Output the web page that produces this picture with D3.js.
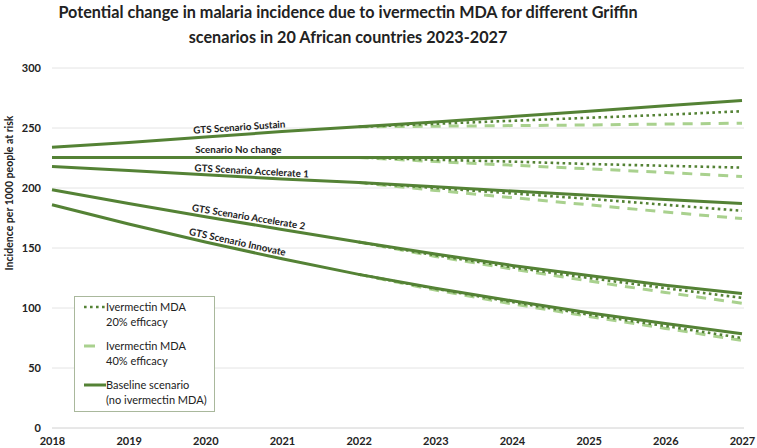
<!DOCTYPE html>
<html><head><meta charset="utf-8">
<script src="https://cdn.jsdelivr.net/npm/d3@7"></script>
<style>body{margin:0;background:#fff}svg{display:block}</style>
</head><body><svg id="c" width="757" height="448"></svg>
<script>
const years = [2018,2019,2020,2021,2022,2023,2024,2025,2026,2027];
const mdaYears = [2022,2023,2024,2025,2026,2027];
const scenarios = ["GTS Scenario Sustain","Scenario No change","GTS Scenario Accelerate 1","GTS Scenario Accelerate 2","GTS Scenario Innovate"];
const baseline = [
  [234,238,242.5,247,251,255,259.5,264,268.5,273],
  [225.5,225.5,225.5,225.5,225.5,225.5,225.5,225.5,225.5,225.5],
  [218,214.5,211,207.5,204.5,201,197.5,194,190.5,187],
  [198.5,187,176,165.5,155,145,135.5,127,119,112],
  [186,170,155,141,128,116.5,106,96,87,78.5]
];
const eff20 = [
  [251,253.5,256,258.5,261,264],
  [225.5,223.5,222,220,218.5,217],
  [204.5,200,195.5,191,186,181],
  [155,144,134,125,116.5,108.5],
  [128,116,105,94.5,85,75]
];
const eff40 = [
  [251,251.5,252,252.5,253.3,254],
  [225.5,222,219,216,213,209.5],
  [204.5,198,192,186,180,174.5],
  [155,143,132.5,122.5,113,104],
  [128,115,103.5,93,83,73]
];
const yTicks = [0,50,100,150,200,250,300];
const titleLines = ["Potential change in malaria incidence due to ivermectin MDA for different Griffin","scenarios in 20 African countries 2023-2027"];
const yLabel = "Incidence per 1000 people at risk";
const legendItems = [["Ivermectin MDA","20% efficacy"],["Ivermectin MDA","40% efficacy"],["Baseline scenario","(no ivermectin MDA)"]];

const dark = "#548235", light = "#a9d18e";
const svg = d3.select("#c");
const font = "Lato, 'Open Sans', sans-serif";
const x = d3.scaleLinear().domain([2018,2027]).range([52,742]);
const y = d3.scaleLinear().domain([0,300]).range([428,68]);

svg.selectAll("text.title").data(titleLines).join("text")
  .attr("x",348).attr("y",(d,i)=>18+i*25).attr("text-anchor","middle")
  .attr("font-family",font).attr("font-weight","bold").attr("font-size",16.2).attr("fill","#222").text(d=>d);

svg.append("g").selectAll("line").data(yTicks).join("line")
  .attr("x1",52).attr("x2",744).attr("y1",d=>y(d)).attr("y2",d=>y(d))
  .attr("stroke",d=>d===0?"#d0d0d0":"#e4e4e4").attr("stroke-width",1);

const ya = svg.append("g").attr("transform","translate(44,0)")
  .call(d3.axisLeft(y).tickValues(yTicks).tickSize(0).tickPadding(3));
ya.select(".domain").remove();
ya.selectAll("text").attr("font-family",font).attr("font-weight","bold").attr("font-size",11).attr("fill","#222");

const xa = svg.append("g").attr("transform","translate(0,434)")
  .call(d3.axisBottom(x).tickValues(years).tickFormat(d3.format("d")).tickSize(0).tickPadding(3));
xa.select(".domain").remove();
xa.selectAll("text").attr("font-family",font).attr("font-weight","bold").attr("font-size",11).attr("fill","#222");

svg.append("text").attr("transform","translate(13,193) rotate(-90)").attr("text-anchor","middle")
  .attr("font-family",font).attr("font-weight","bold").attr("font-size",10.5).attr("fill","#222").text(yLabel);

const line = d3.line().x(d=>x(d[0])).y(d=>y(d[1]));
const g = svg.append("g");
eff40.forEach(s=>{
  g.append("path").attr("d",line(mdaYears.map((yr,i)=>[yr,s[i]]))).attr("fill","none")
    .attr("stroke",light).attr("stroke-width",3).attr("stroke-dasharray","10,8");
});
eff20.forEach(s=>{
  g.append("path").attr("d",line(mdaYears.map((yr,i)=>[yr,s[i]]))).attr("fill","none")
    .attr("stroke",dark).attr("stroke-width",2.6).attr("stroke-dasharray","2.6,3.4");
});
baseline.forEach(s=>{
  g.append("path").attr("d",line(years.map((yr,i)=>[yr,s[i]]))).attr("fill","none")
    .attr("stroke",dark).attr("stroke-width",3);
});

const labelPos = [
  {x0:2020.45, off:-4},
  {x0:2020.43, off:-4},
  {x0:2020.6, off:-3},
  {x0:2020.55, off:-3.5},
  {x0:2020.4, off:-3.5}
];
scenarios.forEach((name,i)=>{
  const s = baseline[i];
  const p = labelPos[i];
  const i0 = Math.floor(p.x0-2018), t = p.x0-2018-i0;
  const v = s[i0]+(s[i0+1]-s[i0])*t;
  const ang = Math.atan2(y(s[i0+1])-y(s[i0]), x(years[i0+1])-x(years[i0]))*180/Math.PI;
  svg.append("text").attr("transform",`translate(${x(p.x0)},${y(v)}) rotate(${ang}) translate(0,${p.off})`)
    .attr("text-anchor","middle").attr("font-family",font).attr("font-weight","bold").attr("font-size",9.8)
    .attr("fill","#222").text(name);
});

const lg = svg.append("g");
lg.append("rect").attr("x",74.5).attr("y",296.5).attr("width",140).attr("height",115)
  .attr("fill","#fff").attr("stroke","#a9b89c").attr("stroke-width",1);
const styles = [
  {stroke:dark,dash:"2.6,3.4",w:2.6,x1:84,x2:105},
  {stroke:light,dash:null,w:3,x1:84,x2:95},
  {stroke:dark,dash:null,w:3,x1:84,x2:106}
];
legendItems.forEach((it,i)=>{
  const yy = 307+i*39;
  const st = styles[i];
  lg.append("line").attr("x1",st.x1).attr("x2",st.x2).attr("y1",yy).attr("y2",yy)
    .attr("stroke",st.stroke).attr("stroke-width",st.w).attr("stroke-dasharray",st.dash);
  it.forEach((t,j)=>{
    lg.append("text").attr("x",106).attr("y",yy+4+j*15).attr("font-family",font).attr("font-size",11)
      .attr("fill","#222").text(t);
  });
});
</script></body></html>
